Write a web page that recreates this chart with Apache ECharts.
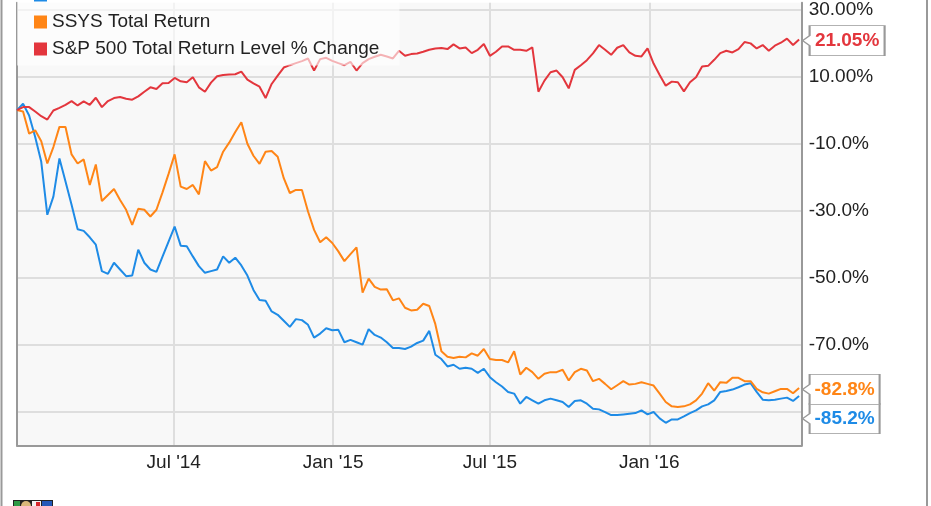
<!DOCTYPE html>
<html><head><meta charset="utf-8">
<script src="https://cdn.jsdelivr.net/npm/echarts@6/dist/echarts.min.js"></script>
<style>html,body{margin:0;padding:0;background:#fff}#c{width:931px;height:506px}</style>
</head><body><div id="c"></div>
<script>
const FONT = '"Liberation Sans", Arial, sans-serif';
const seriesNames = ['DDD Total Return', 'SSYS Total Return', 'S&P 500 Total Return Level % Change'];
const seriesColors = ['#1e8be6', '#ff8516', '#e3363d'];
const firstWeek = [2014, 1, 1]; // weekly observations starting Wed 1 Jan 2014

const ddd = [0,1.9,-1.6,-8.0,-15.4,-31.2,-25.8,-14.4,-21.3,-28.2,-35.5,-36.0,-37.9,-40.1,-48.0,-48.8,-45.5,-47.5,-49.5,-49.3,
  -41.6,-45.5,-47.5,-48.2,-43.7,-39.2,-34.7,-40.4,-40.6,-43.6,-46.5,-48.5,-48.0,-47.5,-43.6,-45.5,-44.0,-46.3,-49.3,-53.6,
  -56.6,-56.8,-60.0,-61.0,-62.8,-64.6,-62.3,-62.6,-64.0,-67.8,-66.6,-65.0,-65.6,-65.5,-69.2,-68.5,-69.2,-69.9,-65.3,-67.0,
  -67.8,-69.2,-70.9,-70.9,-71.2,-70.5,-69.4,-68.7,-65.8,-72.9,-74.2,-76.4,-75.9,-77.1,-76.8,-77.1,-78.3,-77.1,-79.6,-81.1,
  -82.4,-84.0,-84.5,-87.5,-85.5,-86.5,-87.5,-86.5,-86.0,-86.5,-87.0,-88.5,-86.7,-86.5,-87.5,-89.0,-89.2,-90.0,-90.9,-90.9,
  -90.7,-90.5,-90.3,-89.5,-90.7,-90.0,-91.9,-93.2,-92.2,-92.2,-91.3,-90.3,-89.5,-88.3,-87.7,-86.5,-84.0,-83.7,-83.3,-82.6,
  -81.8,-81.4,-84.0,-86.3,-86.5,-86.3,-86.0,-85.7,-86.7,-85.2];
const ssys = [0,-0.4,-7.0,-6.0,-9.3,-15.9,-11.0,-5.0,-5.0,-13.2,-15.9,-14.7,-22.3,-16.2,-27.1,-25.3,-23.5,-26.8,-29.7,-34.2,
  -29.4,-29.7,-31.7,-29.7,-24.5,-19.0,-13.2,-22.8,-23.5,-22.3,-25.1,-15.2,-18.0,-17.0,-12.4,-9.7,-6.5,-3.6,-10.0,-13.6,
  -16.0,-12.4,-12.2,-13.9,-20.3,-24.7,-23.8,-23.8,-30.2,-35.7,-39.4,-37.9,-39.6,-42.1,-45.0,-42.9,-40.9,-54.4,-50.2,-52.7,
  -53.5,-53.4,-56.7,-56.1,-58.9,-59.7,-59.5,-57.7,-58.4,-63.8,-71.9,-73.5,-73.9,-73.5,-73.7,-72.5,-73.2,-71.2,-74.2,-74.5,
  -74.5,-75.2,-71.9,-78.8,-76.8,-78.1,-80.1,-78.6,-78.1,-78.1,-77.4,-80.6,-78.1,-77.1,-77.6,-80.8,-80.1,-81.6,-83.2,-82.0,
  -80.8,-81.8,-81.6,-81.1,-81.6,-82.1,-84.5,-87.0,-88.3,-88.5,-88.3,-87.7,-86.5,-84.5,-81.4,-83.6,-81.1,-81.3,-79.8,-79.8,
  -80.8,-80.8,-83.1,-84.1,-84.5,-83.8,-83.1,-83.1,-84.4,-82.8];
const sp500 = [0,0.9,0.9,-0.4,-1.8,-2.8,-0.1,0.7,1.6,2.7,1.4,2.6,1.6,3.7,0.9,2.7,3.6,3.9,3.4,3.1,
  4.1,5.5,6.8,6.3,8.0,8.1,9.6,8.6,8.3,9.8,6.8,5.5,8.2,10.1,10.5,10.6,10.7,11.5,9.1,8.0,
  7.0,3.6,7.8,10.3,12.7,13.4,14.0,14.6,15.4,11.8,15.2,15.6,14.7,14.0,13.4,14.4,11.8,14.0,15.2,15.9,
  16.5,16.0,15.4,17.7,16.2,16.7,16.9,17.4,18.0,18.4,18.5,18.2,19.6,18.4,18.7,17.0,18.0,19.7,16.2,17.4,
  19.0,19.0,18.0,18.0,17.7,18.7,5.5,8.8,11.3,11.8,9.8,6.5,12.0,13.4,14.9,16.9,19.4,18.0,16.5,18.6,
  19.4,17.2,16.2,16.0,18.4,13.9,10.5,7.3,8.5,8.3,5.6,8.3,9.8,13.0,13.2,15.0,17.0,17.7,17.2,18.2,
  20.3,19.9,18.4,19.4,17.7,19.2,20.1,21.3,19.4,21.05];
const endLabels = ['-85.2%', '-82.8%', '21.05%'];

const yTickValues = [-90, -70, -50, -30, -10, 10, 30];
const yTickLabels = ['-90.0%', '-70.0%', '-50.0%', '-30.0%', '-10.0%', '10.00%', '30.00%'];
const xTickDates = ['2014-07-01', '2015-01-01', '2015-07-01', '2016-01-01'];
const xTickLabels = ["Jul '14", "Jan '15", "Jul '15", "Jan '16"];

function pad(n) { return (n < 10 ? '0' : '') + n; }
function fmtDate(d) { return d.getFullYear() + '-' + pad(d.getMonth() + 1) + '-' + pad(d.getDate()); }
function weekDate(i) { return fmtDate(new Date(firstWeek[0], firstWeek[1] - 1, firstWeek[2] + 7 * i)); }

const allValues = [ddd, ssys, sp500];
const calloutW = [77, 77, 82];
const calloutDy = [22.7, 1.5, 1.1];

const series = allValues.map(function (vals, i) {
  const data = vals.map(function (v, k) { return [weekDate(k), v]; });
  const w = calloutW[i];
  return {
    name: seriesNames[i], type: 'line', data: data, showSymbol: false, symbol: 'none',
    color: seriesColors[i],
    lineStyle: { width: 2, color: seriesColors[i] },
    itemStyle: { color: seriesColors[i] },
    emphasis: { disabled: true }, silent: true,
    markPoint: {
      silent: true, animation: false,
      symbol: 'path://M0,15L7,10L7,0L' + w + ',0L' + w + ',30L7,30L7,20Z',
      symbolSize: [w, 30],
      symbolOffset: [w / 2 + 3.5, calloutDy[i]],
      itemStyle: { color: '#fff', borderColor: '#999', borderWidth: 1.3 },
      label: { show: true, position: 'inside', offset: [3.5, 0], formatter: endLabels[i],
        color: seriesColors[i], fontWeight: 'bold', fontSize: 19, fontFamily: FONT },
      data: [{ coord: data[data.length - 1] }]
    }
  };
});

const borderLine = { show: true, onZero: false, lineStyle: { color: '#999', width: 2 } };

const chart = echarts.init(document.getElementById('c'), null, { renderer: 'canvas' });
chart.setOption({
  animation: false,
  backgroundColor: '#fff',
  grid: { left: 17, right: 129.3, top: 0, bottom: 60.4, show: true, backgroundColor: '#f8f8f8',
    borderWidth: 0 },
  legend: {
    orient: 'vertical', left: 17, top: -20.5, padding: [6, 20, 7, 17], itemGap: 8,
    itemWidth: 13, itemHeight: 13, icon: 'rect', selectedMode: false,
    backgroundColor: 'rgba(255,255,255,0.62)',
    textStyle: { fontSize: 19, color: '#222', fontFamily: FONT },
    data: seriesNames
  },
  xAxis: {
    type: 'time', min: '2014-01-01', max: '2016-06-25',
    minInterval: 182.5 * 86400000, maxInterval: 182.5 * 86400000,
    axisLine: borderLine, axisTick: { show: false },
    splitLine: { show: true, showMinLine: false, showMaxLine: false, lineStyle: { color: '#dedede', width: 2 } },
    axisLabel: {
      margin: 7.7, fontSize: 19, color: '#222', fontFamily: FONT, showMinLabel: false, showMaxLabel: false,
      formatter: function (v) {
        const idx = xTickDates.indexOf(fmtDate(new Date(v)));
        return idx >= 0 ? xTickLabels[idx] : '';
      }
    }
  },
  yAxis: [{
    type: 'value', position: 'right', min: -100, max: 32, interval: 10,
    axisLine: borderLine, axisTick: { show: false },
    splitLine: { show: true, lineStyle: { color: ['rgba(0,0,0,0)', '#dedede'], width: 2 } },
    axisLabel: {
      margin: 7, fontSize: 19, color: '#222', fontFamily: FONT, showMinLabel: true, showMaxLabel: true,
      formatter: function (v) {
        for (let i = 0; i < yTickValues.length; i++) {
          if (Math.abs(yTickValues[i] - v) < 1e-6) return yTickLabels[i];
        }
        return '';
      }
    }
  }, {
    type: 'value', position: 'left', min: -100, max: 32, interval: 10,
    axisLine: borderLine, axisTick: { show: false }, axisLabel: { show: false }, splitLine: { show: false }
  }],
  graphic: [
    { type: 'line', shape: { x1: 1.5, y1: 0, x2: 1.5, y2: 506 }, style: { stroke: '#999', lineWidth: 2 }, silent: true },
    { type: 'line', shape: { x1: 927, y1: 0, x2: 927, y2: 506 }, style: { stroke: '#999', lineWidth: 2 }, silent: true },
    { type: 'group', left: 13, top: 500, silent: true, children: [
      { type: 'rect', shape: { x: 0, y: 0, width: 40, height: 10 }, style: { fill: '#222' } },
      { type: 'rect', shape: { x: 1, y: 1, width: 6, height: 9 }, style: { fill: '#2e9a45' } },
      { type: 'circle', shape: { cx: 13, cy: 6, r: 5 }, style: { fill: '#d9b77a' } },
      { type: 'rect', shape: { x: 19, y: 1, width: 9, height: 9 }, style: { fill: '#f2f2f2' } },
      { type: 'rect', shape: { x: 23, y: 2, width: 4, height: 8 }, style: { fill: '#d8262c' } },
      { type: 'rect', shape: { x: 29, y: 1, width: 10, height: 9 }, style: { fill: '#2358b8' } }
    ] }
  ],
  series: series
});
</script>
</body></html>
